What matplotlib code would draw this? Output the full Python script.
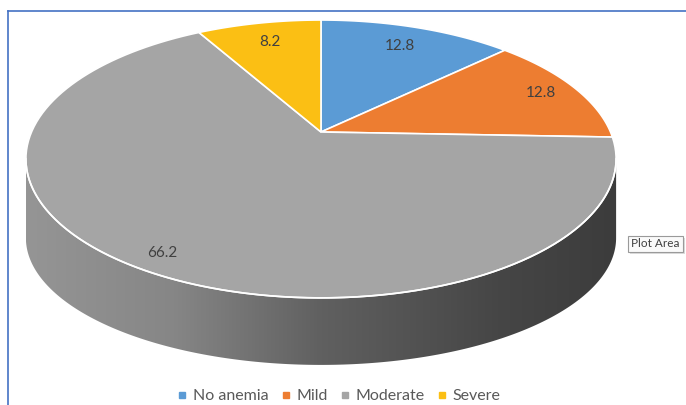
import matplotlib.pyplot as plt
import numpy as np
from matplotlib.lines import Line2D
from matplotlib.patches import Polygon, FancyBboxPatch
from matplotlib.colors import LinearSegmentedColormap

# Data
categories = ['No anemia', 'Mild', 'Moderate', 'Severe']
values = [12.8, 12.8, 66.2, 8.2]
colors = ['#5B9BD5', '#ED7D31', '#A5A5A5', '#FBBF14']
label_radius = [0.8, 0.86, 0.9, 0.8]

# Projection of the pie disc (Excel style 3D pie with perspective)
CX, CY = 321, 132      # apex of the slices
A, B, K = 289.5, 133.7, 0.194
H_BOT, B_BOT = 81.3, 122.2   # bottom rim of the side wall


def top(u, v):
    den = 1 + K * v
    return CX + A * u / den, CY - B * v / den


def bottom(u, v):
    den = 1 + K * v
    return CX + A * u / den, CY + H_BOT - B_BOT * v / den


def rim(theta_deg, fn=top, r=1.0):
    t = np.radians(theta_deg)
    return fn(r * np.sin(t), r * np.cos(t))


fig = plt.figure(figsize=(6.86, 4.05), dpi=100)
ax = fig.add_axes([0, 0, 1, 1])
ax.set_xlim(0, 686)
ax.set_ylim(405, 0)
ax.axis('off')

# Side wall (front part, angles where v < -K)
th_side = np.degrees(np.arccos(-K))
angs = np.linspace(th_side, 360 - th_side, 200)
tx, ty = rim(angs, top)
bx, by = rim(angs, bottom)
wall_xy = np.column_stack([np.concatenate([tx, bx[::-1]]),
                           np.concatenate([ty, by[::-1]])])
wall = Polygon(wall_xy, closed=True, facecolor='none', edgecolor='none')
ax.add_patch(wall)
grad = LinearSegmentedColormap.from_list(
    'wall', [(0, '#959595'), (0.25, '#868686'), (0.5, '#606060'),
             (0.8, '#464646'), (1, '#3c3c3c')])
img = ax.imshow(np.linspace(0, 1, 256).reshape(1, -1), cmap=grad, aspect='auto',
                extent=[tx.min(), tx.max(), by.max(), ty.min()], zorder=1)
img.set_clip_path(wall)

# Top face slices, clockwise from 12 o'clock
total = sum(values)
start = 0.0
for val, col, lr in zip(values, colors, label_radius):
    span = 360 * val / total
    a = np.linspace(start, start + span, 120)
    x, y = rim(a, top)
    xy = np.column_stack([np.concatenate([[CX], x]), np.concatenate([[CY], y])])
    ax.add_patch(Polygon(xy, closed=True, facecolor=col, edgecolor='white',
                         linewidth=1.2, zorder=2))
    lx, ly = rim(start + span / 2, top, r=lr)
    ax.text(lx, ly, f'{val}', ha='center', va='center', fontsize=11,
            color='#404040', family='Lato', zorder=4)
    start += span

# white highlight along the front rim
ax.plot(tx, ty, color='white', linewidth=1.2, zorder=3)

# Chart frame (blue border)
ax.plot([8, 8], [405, 10.5], color='#4472C4', linewidth=1.2, zorder=5)
ax.plot([8, 686], [10.5, 10.5], color='#4472C4', linewidth=1.2, zorder=5)

# "Plot Area" tooltip
ax.add_patch(FancyBboxPatch((629.5, 238), 55, 16, boxstyle='square,pad=0',
                            facecolor='#dcdcdc', edgecolor='none', zorder=5))
ax.add_patch(FancyBboxPatch((627.5, 235.5), 55, 16, boxstyle='square,pad=0',
                            facecolor='#fafafa', edgecolor='#9a9a9a',
                            linewidth=0.8, zorder=6))
ax.text(655, 243.5, 'Plot Area', ha='center', va='center', fontsize=8.5,
        color='#404040', family='Lato', zorder=7)

# Legend
handles = [Line2D([], [], marker='s', linestyle='none', markersize=4.5, color=c)
           for c in colors]
leg = fig.legend(handles, categories, loc='center', ncol=4,
                 bbox_to_anchor=(339 / 686, 1 - 396 / 405), frameon=False,
                 handlelength=0.6, handletextpad=0.35,
                 columnspacing=0.8, borderpad=0,
                 prop={'family': 'Lato', 'size': 11.5})
for t in leg.get_texts():
    t.set_color('#595959')

plt.savefig('out.png', dpi=100)
plt.close()
